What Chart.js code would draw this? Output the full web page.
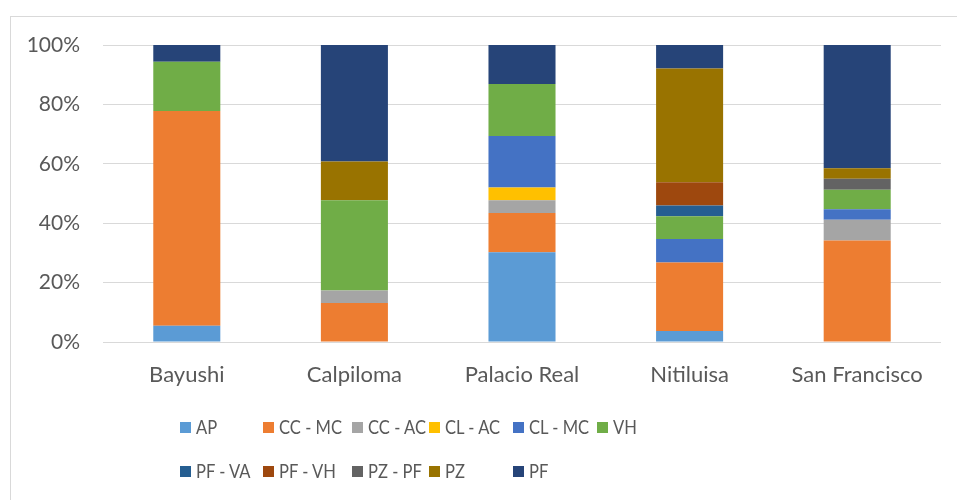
<!DOCTYPE html>
<html>
<head>
<meta charset="utf-8">
<script src="https://cdn.jsdelivr.net/npm/chart.js@4"></script>
<style>
  html, body { margin: 0; padding: 0; background: #fff; }
  #wrap { position: relative; width: 957px; height: 500px; overflow: hidden; }
  #frame { position: absolute; left: 10px; top: 16px; width: 960px; height: 500px; border: 1px solid #d9d9d9; box-sizing: border-box; }
  canvas { position: absolute; left: 0; top: 0; }
  #legend { position: absolute; left: 0; top: 0; font-family: Lato, sans-serif; font-size: 19.5px; color: #595959; }
  .item { position: absolute; white-space: nowrap; line-height: 22px; }
  .box { display: inline-block; width: 11px; height: 11px; margin-right: 5px; vertical-align: 1px; }
  .txt { display: inline-block; transform: scaleX(0.85); transform-origin: left center; }
</style>
</head>
<body>
<div id="wrap">
  <div id="frame"></div>
  <canvas id="chart" width="957" height="500"></canvas>
  <div id="legend"></div>
</div>
<script>
const categories = ["Bayushi", "Calpiloma", "Palacio Real", "Nitiluisa", "San Francisco"];
const seriesNames = ["AP", "CC - MC", "CC - AC", "CL - AC", "CL - MC", "VH", "PF - VA", "PF - VH", "PZ - PF", "PZ", "PF"];
const seriesColors = ["#5B9BD5", "#ED7D31", "#A5A5A5", "#FFC000", "#4472C4", "#70AD47", "#255E91", "#9E480E", "#636363", "#997300", "#264478"];

// share (%) per category, in the order of categories
const AP   = [5.5, 0, 30.2, 3.7, 0];
const CCMC = [72.3, 13.1, 13.2, 23.1, 34.2];
const CCAC = [0, 4.2, 4.3, 0, 7.0];
const CLAC = [0, 0, 4.3, 0, 0];
const CLMC = [0, 0, 17.4, 7.9, 3.5];
const VH   = [16.6, 30.4, 17.5, 7.6, 6.6];
const PFVA = [0, 0, 0, 3.7, 0];
const PFVH = [0, 0, 0, 7.8, 0];
const PZPF = [0, 0, 0, 0, 3.7];
const PZ   = [0, 13.1, 0, 38.3, 3.5];
const PF   = [5.6, 39.2, 13.1, 7.9, 41.5];

const seriesValues = [AP, CCMC, CCAC, CLAC, CLMC, VH, PFVA, PFVH, PZPF, PZ, PF];
const yTicks = [0, 20, 40, 60, 80, 100];

const textColor = "#595959";
const gridColor = "#d9d9d9";

const datasets = seriesNames.map((name, i) => ({
    label: name,
    data: seriesValues[i],
    backgroundColor: seriesColors[i],
    borderWidth: 0,
    categoryPercentage: 0.4,
    barPercentage: 1
}));

new Chart(document.getElementById("chart"), {
    type: "bar",
    data: { labels: categories, datasets: datasets },
    options: {
        responsive: false,
        animation: false,
        layout: { padding: { top: 45, left: 10, right: 16, bottom: 0 } },
        plugins: {
            legend: { display: false },
            tooltip: { enabled: false }
        },
        scales: {
            x: {
                stacked: true,
                grid: { display: false },
                border: { display: false },
                ticks: { color: textColor, font: { family: "Lato", size: 22 }, padding: 12 },
                afterFit: (scale) => { scale.height = 158; }
            },
            y: {
                stacked: true,
                min: 0,
                max: 100,
                afterBuildTicks: (scale) => { scale.ticks = yTicks.map(v => ({ value: v })); },
                grid: { color: gridColor, lineWidth: 1, drawTicks: false },
                border: { display: false },
                ticks: { color: textColor, font: { family: "Lato", size: 21 }, padding: 23, callback: (v) => v + "%" },
                afterFit: (scale) => { scale.width = 93; }
            }
        }
    }
});

// legend laid out in Excel-like columns
const legendCols = [180, 263, 352, 429, 513, 597];
const legendRows = [427, 471];
const legend = document.getElementById("legend");
seriesNames.forEach((name, i) => {
    const row = i < 6 ? 0 : 1;
    const col = i < 6 ? i : i - 6;
    const el = document.createElement("div");
    el.className = "item";
    el.style.left = legendCols[col] + "px";
    el.style.top = (legendRows[row] - 11) + "px";
    el.innerHTML = '<span class="box" style="background:' + seriesColors[i] + '"></span><span class="txt">' + name + '</span>';
    legend.appendChild(el);
});
</script>
</body>
</html>
